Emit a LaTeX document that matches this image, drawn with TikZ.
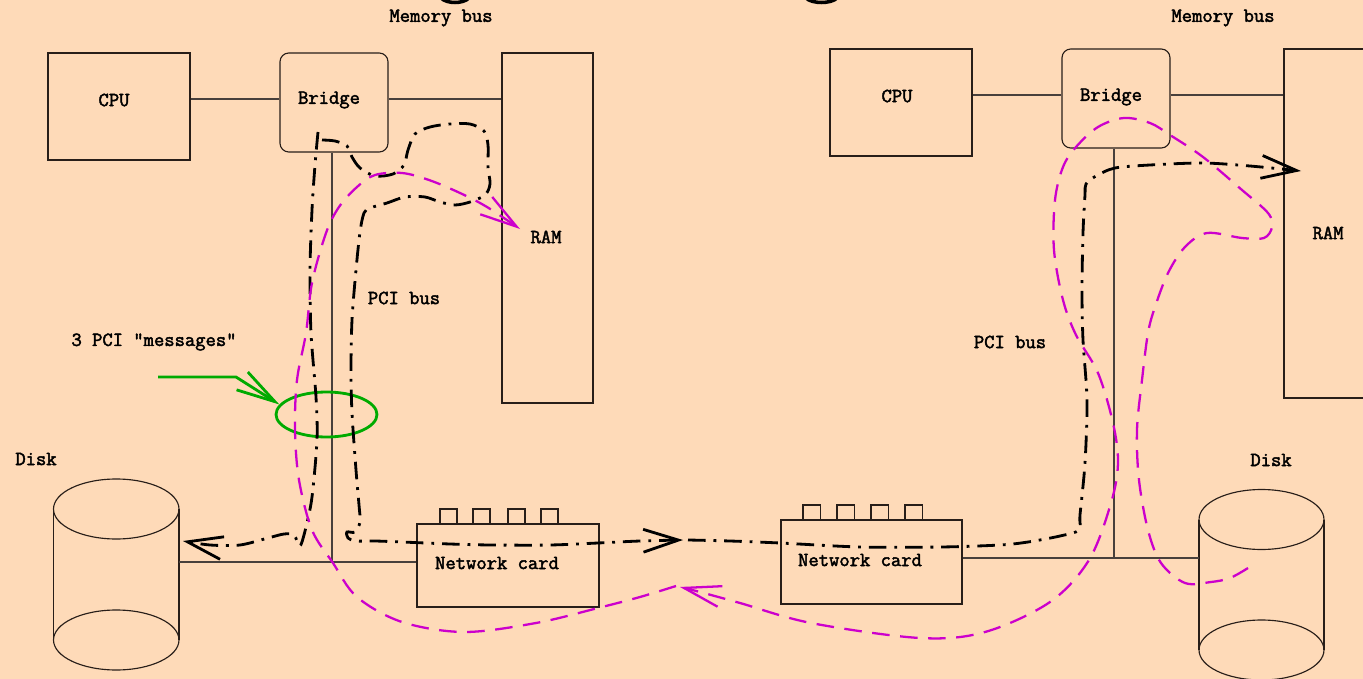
\documentclass[tikz,border=0pt]{standalone}
\usepackage{fontspec}
\newfontfamily\courlike{Latin Modern Mono}[FakeBold=2.2]
\usetikzlibrary{arrows.meta,fit,shapes.geometric}
\definecolor{bg}{RGB}{254,218,184}
\definecolor{mag}{RGB}{204,0,204}
\definecolor{grn}{RGB}{0,170,0}
\definecolor{ink}{RGB}{40,30,25}
\begin{document}
\begin{tikzpicture}[x=0.02cm,y=-0.02cm,
  lbl/.style={font=\courlike\fontsize{11.4}{13}\selectfont, inner sep=0pt},
  box/.style={draw=ink, line width=0.65pt, inner sep=0pt},
  bus/.style={draw=ink!85, line width=0.7pt},
  msg/.style={draw=black, line width=1.6pt, dash pattern=on 10pt off 4.5pt on 1.6pt off 4.5pt},
  dma/.style={draw=mag, line width=1.3pt, dash pattern=on 10pt off 6pt},
  bhead/.style={-{Straight Barb[length=20pt,width=13pt]}},
  mhead/.style={-{Straight Barb[length=21pt,width=12pt]}}
]
\useasboundingbox (0,0) rectangle (1363,679);
\fill[bg] (0,0) rectangle (1363,679);
\clip (0,0) rectangle (1363,679);

% cut-off title fragments at the top
\draw[line width=2pt] (441,-2) .. controls (447,4) and (463,4) .. (469,-2);
\draw[line width=2pt] (806,-2) .. controls (812,4) and (831,4) .. (837,-2);

% ===== left host =====
\node[box, fit={(48,53)(190,160)}] (cpuL) {};
\node[box, rounded corners=5pt, fit={(280,53)(388,152)}] (bridgeL) {};
\node[box, fit={(502,53)(593,403)}] (ramL) {};
\node[box, fit={(417,524)(599,607)}] (netL) {};
\node[fit={(53.5,479)(179,670)}, inner sep=0pt] (diskL) {};
\draw[box] (116.25,509) ellipse [x radius=1.255cm, y radius=0.6cm];
\draw[box] (116.25,640) ellipse [x radius=1.255cm, y radius=0.6cm];
\draw[box] (53.5,509) -- (53.5,640) (179,509) -- (179,640);
\foreach \a in {440,473,508,541} \draw[box] (\a,509) rectangle ++(17,15);

\coordinate (mbL) at (0,99);
\coordinate (jL) at (332,562);
\draw[bus] (cpuL.east |- mbL) -- (bridgeL.west |- mbL);
\draw[bus] (bridgeL.east |- mbL) -- (ramL.west |- mbL);
\draw[bus] (bridgeL.south -| jL) -- (jL);
\draw[bus] (diskL.east |- jL) -- (netL.west |- jL);

\node[lbl] (tCpuL) at (114,100) {CPU};
\node[lbl] (tBrL) at (329,100) {Bridge};
\node[lbl] (tRamL) at (546,237) {RAM};
\node[lbl] (tMemL) at (441,18) {Memory bus};
\node[lbl] (tPciL) at (404,298) {PCI bus};
\node[lbl] (tMsg) at (154,342) {3 PCI "messages"};
\node[lbl] (tDiskL) at (36,459) {Disk};
\node[lbl] (tNetL) at (497,563) {Network card};

% ===== right host =====
\node[box, fit={(830,49)(972,156)}] (cpuR) {};
\node[box, rounded corners=5pt, fit={(1062,49)(1170,148)}] (bridgeR) {};
\node[box, fit={(1284,49)(1375,398)}] (ramR) {};
\node[box, fit={(781,520)(962,604)}] (netR) {};
\node[fit={(1199,489.5)(1324,680)}, inner sep=0pt] (diskR) {};
\draw[box] (1261.5,519.5) ellipse [x radius=1.25cm, y radius=0.6cm];
\draw[box] (1261.5,650) ellipse [x radius=1.25cm, y radius=0.6cm];
\draw[box] (1199,519.5) -- (1199,650) (1324,519.5) -- (1324,650);
\foreach \a in {803,837,871,905} \draw[box] (\a,505) rectangle ++(17.5,15);

\coordinate (mbR) at (0,95);
\coordinate (jR) at (1114,558);
\draw[bus] (cpuR.east |- mbR) -- (bridgeR.west |- mbR);
\draw[bus] (bridgeR.east |- mbR) -- (ramR.west |- mbR);
\draw[bus] (bridgeR.south -| jR) -- (jR);
\draw[bus] (netR.east |- jR) -- (diskR.west |- jR);

\node[lbl] (tCpuR) at (897,96) {CPU};
\node[lbl] (tBrR) at (1111,97) {Bridge};
\node[lbl] (tRamR) at (1328,233) {RAM};
\node[lbl] (tMemR) at (1223,18) {Memory bus};
\node[lbl] (tPciR) at (1010,342) {PCI bus};
\node[lbl] (tDiskR) at (1271,460) {Disk};
\node[lbl] (tNetR) at (860,560) {Network card};

% ===== green annotation =====
\node[ellipse, draw=grn, line width=1.6pt, minimum width=2.02cm, minimum height=0.9cm, inner sep=0pt] (msgs) at (326.5,414.5) {};
\coordinate (gstart) at (158,377);
\draw[grn, line width=1.6pt, -{Straight Barb[length=22pt,width=12pt]}] (gstart) -- (236,377) -- (msgs.168);

% ===== black PCI message paths =====
\draw[msg, bhead] plot[smooth, tension=0.5] coordinates {(318,132) (315,165) (312,210) (310,270) (311,333) (316,397) (317,440) (312,497) (306,527) (300,546) (294,535) (284,534) (268,538) (240,545) (210,545) (183,541)};

\draw[msg, bhead] plot[smooth, tension=0.5] coordinates {(322,140) (335,141) (347,146) (352,157) (360,168) (375,176) (393,174) (404,165) (408,150) (415,134) (430,127) (450,124) (470,124) (484,131) (488,145) (488,167) (490,184) (485,195) (470,202) (455,205) (440,202) (425,197) (405,197) (387,203) (370,208) (364,213) (360,232) (356,270) (352,320) (351,370) (352,413) (356,470) (359,505) (360,522) (355,532) (347,532) (348,538) (356,541) (375,541) (402,542) (450,544) (491,545) (550,545) (598,543) (640,541) (683,540)};

\draw[msg, bhead] plot[smooth, tension=0.5] coordinates {(688,540) (730,541) (780,543) (860,547) (941,547) (1000,545) (1028,542) (1060,536) (1079,530) (1080,515) (1085,463) (1087,400) (1083,340) (1082,290) (1083,233) (1085,195) (1086,184) (1096,176) (1115,168) (1150,165) (1203,163) (1250,166) (1301,171)};

% ===== magenta DMA paths =====
\draw[dma, mhead] plot[smooth, tension=0.55] coordinates {(1248,568) (1230,578) (1211,582) (1185,583) (1161,563) (1148,530) (1139,480) (1137,430) (1142,380) (1148,333) (1155,307) (1168,273) (1185,247) (1207,233) (1242,238) (1264,238) (1272,227) (1268,213) (1242,190) (1203,157) (1170,135) (1150,123) (1124,118) (1098,127) (1076,147) (1063,167) (1055,200) (1054,250) (1063,300) (1076,335) (1098,373) (1113,423) (1118,463) (1111,503) (1089,560) (1050,602) (985,632) (920,638) (811,623) (740,603) (700,592) (680,587)};

\draw[dma, mhead] plot[smooth, tension=0.55] coordinates {(676,586) (640,597) (598,608) (536,623) (464,632) (402,622) (357,597) (333,563) (312,530) (299,480) (295,430) (297,380) (306,333) (312,283) (326,233) (339,207) (357,187) (375,175) (402,173) (429,180) (460,193) (487,207) (520,229)};
\end{tikzpicture}
\end{document}
